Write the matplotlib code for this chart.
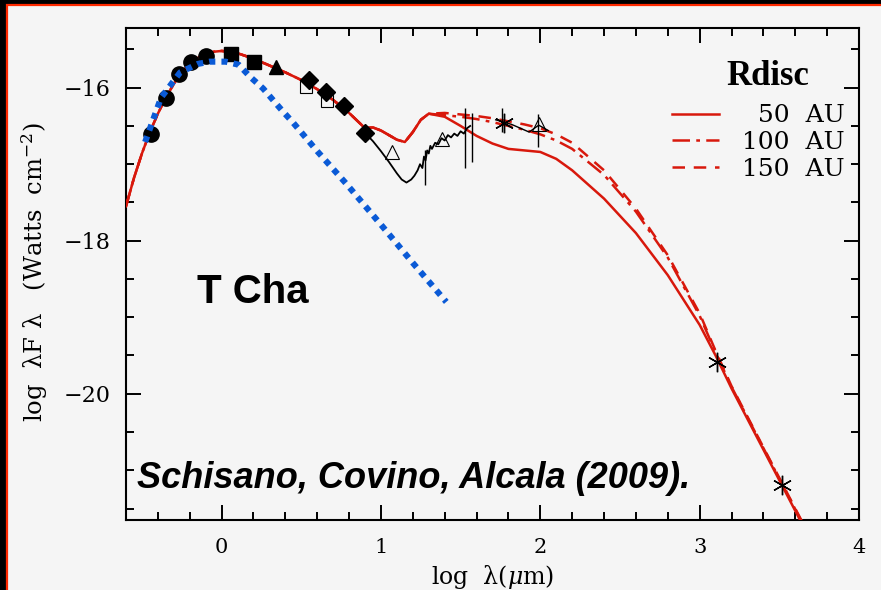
import numpy as np
import matplotlib.pyplot as plt
from matplotlib.patches import Rectangle
from matplotlib.ticker import MultipleLocator

# T Cha SED with disc models (Schisano, Covino, Alcala 2009)

# red disc models: shared part, then the three Rdisc tails
model_x_common = [-0.60, -0.55, -0.50, -0.45, -0.40, -0.35, -0.30, -0.25, -0.20, -0.15,
                  -0.10, -0.05, 0.00, 0.05, 0.10, 0.20, 0.30, 0.40, 0.50, 0.60,
                  0.70, 0.80, 0.90, 0.95, 1.00, 1.05, 1.10, 1.15, 1.20, 1.25, 1.30]
model_y_common = [-17.55, -17.18, -16.86, -16.58, -16.34, -16.13, -15.95, -15.80, -15.69, -15.61,
                  -15.56, -15.53, -15.52, -15.53, -15.55, -15.62, -15.71, -15.80, -15.90, -16.02,
                  -16.16, -16.33, -16.53, -16.52, -16.56, -16.62, -16.68, -16.71, -16.58, -16.42, -16.34]

tail_x = [1.40, 1.50, 1.60, 1.70, 1.80, 1.90, 2.00, 2.10, 2.20, 2.40, 2.60, 2.80,
          3.00, 3.10, 3.20, 3.30, 3.40, 3.50, 3.60, 3.70]
tail_50 = [-16.38, -16.50, -16.63, -16.73, -16.80, -16.82, -16.84, -16.93, -17.08, -17.45, -17.90, -18.45,
           -19.10, -19.50, -19.93, -20.33, -20.73, -21.13, -21.53, -21.93]
tail_100 = [-16.36, -16.38, -16.41, -16.45, -16.50, -16.55, -16.61, -16.69, -16.80, -17.14, -17.62, -18.22,
            -18.98, -19.46, -19.91, -20.31, -20.71, -21.11, -21.51, -21.91]
tail_150 = [-16.33, -16.35, -16.37, -16.40, -16.44, -16.48, -16.53, -16.61, -16.72, -17.08, -17.58, -18.19,
            -18.95, -19.44, -19.90, -20.30, -20.70, -21.10, -21.50, -21.90]
rdisc_labels = ["\u200750  AU", "100  AU", "150  AU"]

# blue photosphere
phot_x = [-0.48, -0.38, -0.26, -0.15, -0.075, 0.025, 0.107, 0.18, 0.26, 0.38, 0.45, 0.60, 0.78, 1.00, 1.20, 1.41]
phot_y = [-16.71, -16.13, -15.80, -15.69, -15.66, -15.66, -15.70, -15.86, -16.01, -16.30, -16.46, -16.83, -17.25, -17.79, -18.29, -18.80]

# photometry
circ_x = [-0.446, -0.352, -0.270, -0.195, -0.100]
circ_y = [-16.60, -16.13, -15.82, -15.67, -15.58]
sq_x = [0.056, 0.201]
sq_y = [-15.56, -15.66]
tri_x = [0.339]
tri_y = [-15.73]
dia_x = [0.546, 0.653, 0.766, 0.898]
dia_y = [-15.90, -16.05, -16.24, -16.59]
osq_x = [0.527, 0.659]
osq_y = [-15.99, -16.18]
otri_x = [1.067, 1.381, 1.990]
otri_y = [-16.84, -16.67, -16.48]
ast_x = [1.770, 3.107, 3.515]
ast_y = [-16.46, -19.58, -21.19]

# IRS spectrum + far-IR segment
spec_x = [0.90, 0.95, 1.00, 1.05, 1.10, 1.13, 1.16, 1.19, 1.21, 1.23, 1.245, 1.26, 1.27, 1.28, 1.29,
          1.30, 1.31, 1.32, 1.34, 1.36, 1.38, 1.40, 1.42, 1.44, 1.46, 1.48, 1.50, 1.52, 1.54, 1.56]
spec_y = [-16.59, -16.70, -16.83, -16.97, -17.12, -17.20, -17.24, -17.20, -17.15, -17.08, -17.00, -17.05,
          -16.90, -16.95, -16.82, -16.86, -16.76, -16.80, -16.72, -16.74, -16.66, -16.69, -16.62, -16.65,
          -16.60, -16.63, -16.57, -16.60, -16.53, -16.50]
fir_x = [1.72, 1.82, 1.93, 1.99, 2.05]
fir_y = [-16.42, -16.48, -16.58, -16.49, -16.56]
err_x = [1.274, 1.528, 1.569, 1.758, 1.984]
err_lo = [-17.27, -17.05, -16.97, -16.58, -16.77]
err_hi = [-16.81, -16.26, -16.33, -16.26, -16.35]

plt.rcParams["mathtext.fontset"] = "dejavuserif"

W, H = 881, 590
fig = plt.figure(figsize=(W / 100, H / 100), dpi=100, facecolor="black")
fig.patches.append(Rectangle((7 / W, -0.1), 1.2, 1.1 - 5 / H, transform=fig.transFigure,
                             facecolor="#f5f5f5", edgecolor="#ff2a00", linewidth=1.6, zorder=-10))

ax = fig.add_axes([126 / W, 70 / H, 733 / W, 492 / H])
ax.set_facecolor("#f5f5f5")

red = "#d8180c"
line_styles = ["-", (0, (7, 2.5, 1.5, 2.5)), (0, (5, 3.5))]
tails = [tail_50, tail_100, tail_150]
for tail, ls, lab in zip(tails[::-1], line_styles[::-1], rdisc_labels[::-1]):
    ax.plot(model_x_common + tail_x, model_y_common + tail, color=red, lw=1.8, ls=ls, label=lab, zorder=3)

ax.plot(phot_x, phot_y, color="#0a5ad6", lw=4.4, ls=(0, (1, 1.0)), dash_capstyle="butt", zorder=6)

ax.plot(spec_x, spec_y, color="black", lw=1.3, zorder=4)
ax.plot(fir_x, fir_y, color="black", lw=1.0, zorder=4)
ax.vlines(err_x, err_lo, err_hi, color="black", lw=1.0, zorder=4)

ax.plot(circ_x, circ_y, "o", color="black", ms=11, zorder=5)
ax.plot(sq_x, sq_y, "s", color="black", ms=10, zorder=5)
ax.plot(tri_x, tri_y, "^", color="black", ms=10, zorder=5)
ax.plot(dia_x, dia_y, "D", color="black", ms=9, zorder=5)
ax.plot(osq_x, osq_y, "s", mfc="none", mec="black", mew=0.8, ms=9, zorder=5)
ax.plot(otri_x, otri_y, "^", mfc="none", mec="black", mew=0.8, ms=10, zorder=5)
ax.plot(ast_x, ast_y, marker=(6, 2, 0), ls="none", color="black", mew=1.0, ms=14, zorder=5)

ax.set_xlim(-0.6, 4.0)
ax.set_ylim(-21.65, -15.22)
ax.xaxis.set_major_locator(MultipleLocator(1))
ax.xaxis.set_minor_locator(MultipleLocator(0.2))
ax.yaxis.set_major_locator(MultipleLocator(2))
ax.yaxis.set_minor_locator(MultipleLocator(0.5))
ax.tick_params(which="both", direction="in", top=True, right=True, width=1.4, color="black")
ax.tick_params(which="major", length=11)
ax.tick_params(which="minor", length=6)
ax.tick_params(axis="x", pad=13, labelsize=15)
ax.tick_params(axis="y", pad=11, labelsize=16)
for t in ax.get_xticklabels() + ax.get_yticklabels():
    t.set_family("DejaVu Serif")
for s in ax.spines.values():
    s.set_linewidth(1.5)

ax.set_xlabel("log  λ($\\mu$m)", fontsize=17, family="DejaVu Serif")
ax.xaxis.set_label_coords(0.5, -0.115)
ax.xaxis.label.set_va("center")
ax.set_ylabel("log  λF λ   (Watts  cm$^{-2}$)", fontsize=17.5, family="DejaVu Serif")
ax.yaxis.set_label_coords(-0.124, 0.504)
ax.yaxis.label.set_va("center")

ax.text(-0.157, -18.81, "T Cha", fontsize=29, fontweight="bold", family="Liberation Sans",
        ha="left", va="baseline", zorder=7)
ax.text(-0.534, -21.23, "Schisano, Covino, Alcala (2009).", fontsize=26, fontweight="bold",
        style="italic", family="Liberation Sans", ha="left", va="baseline", zorder=7)
ax.text(3.17, -15.96, "Rdisc", fontsize=25, fontweight="bold", family="Liberation Serif",
        ha="left", va="baseline", zorder=7)

handles, labels = ax.get_legend_handles_labels()
leg = ax.legend(handles[::-1], labels[::-1], loc="upper right", bbox_to_anchor=(0.98, 0.845),
                frameon=False, borderpad=0, borderaxespad=0, handlelength=1.9, handletextpad=0.9,
                labelspacing=0.15, prop={"family": "DejaVu Serif", "size": 18})

fig.savefig("out.png", dpi=100, facecolor=fig.get_facecolor())
